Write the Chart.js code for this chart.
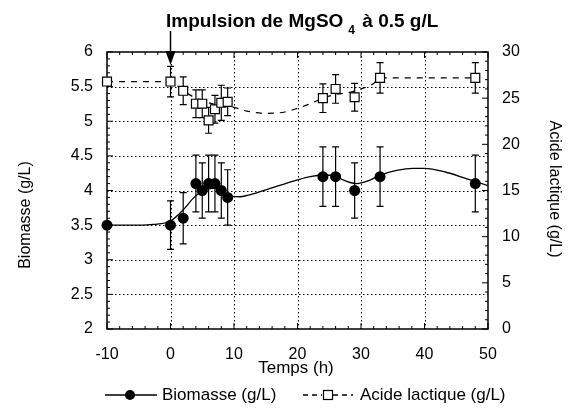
<!DOCTYPE html>
<html>
<head>
<meta charset="utf-8">
<script src="https://cdn.jsdelivr.net/npm/chart.js@4/dist/chart.umd.min.js"></script>
<style>
  html, body { margin: 0; padding: 0; background: #fff; }
  #wrap { width: 574px; height: 408px; }
</style>
</head>
<body>
<div id="wrap"><canvas id="chart" width="574" height="408"></canvas></div>
<script>
// sampling times (h) and measured values
const times = [-10, 0, 2, 4, 5, 6, 7, 8, 9, 24, 26, 29, 33, 48];
const biomasse = [3.5, 3.5, 3.6, 4.1, 4.0, 4.1, 4.1, 4.0, 3.9, 4.2, 4.2, 4.0, 4.2, 4.1];
const biomasseErr = [0, 0.35, 0.37, 0.41, 0.40, 0.41, 0.41, 0.40, 0.40, 0.43, 0.43, 0.40, 0.43, 0.41];
const acide = [26.8, 26.8, 25.8, 24.4, 24.4, 22.6, 23.8, 24.5, 24.6, 25.0, 26.0, 25.1, 27.2, 27.2];
const acideErr = [0, 1.65, 1.5, 1.5, 1.5, 1.4, 1.5, 1.9, 1.5, 1.55, 1.55, 1.5, 1.65, 1.65];

// smoothed curves
const biomasseFitT = [-10, -5, -2.7, 0, 2, 3.6, 5.2, 6.8, 8.4, 9.4, 11, 12.6, 15.7, 19.9, 22, 24, 26, 27, 29.3, 31.4, 33, 35.6, 38.2, 40, 43.5, 46, 48, 50];
const biomasseFit = [3.5, 3.5, 3.51, 3.56, 3.72, 3.89, 4.0, 4.03, 3.98, 3.92, 3.91, 3.94, 4.03, 4.15, 4.2, 4.22, 4.22, 4.16, 4.1, 4.15, 4.22, 4.29, 4.32, 4.32, 4.26, 4.19, 4.13, 4.07];
const acideFitT = [-10, -5, 0, 2, 4, 6, 8, 10, 12, 15, 18, 20, 22, 24, 26, 28, 30, 32, 33, 40, 48];
const acideFit = [26.8, 26.8, 26.8, 25.8, 25.0, 24.5, 24.2, 24.0, 23.6, 23.35, 23.5, 23.9, 24.4, 25.0, 25.4, 25.6, 26.0, 26.6, 27.2, 27.2, 27.2];

// axis ticks
const xTicks = [-10, 0, 10, 20, 30, 40, 50];
const yLeftTicks = [2, 2.5, 3, 3.5, 4, 4.5, 5, 5.5, 6];
const yRightTicks = [0, 5, 10, 15, 20, 25, 30];

const FONT = "'Liberation Sans', Arial, Helvetica, sans-serif";

function pts(xs, ys) {
    return xs.map((x, i) => ({ x: x, y: ys[i] }));
}

// error bars drawn under the markers
function drawErrors(chart, vals, errs, scaleId) {
    const ctx = chart.ctx;
    const xs = chart.scales.x;
    const ys = chart.scales[scaleId];
    ctx.save();
    ctx.strokeStyle = '#000';
    ctx.lineWidth = 1.2;
    times.forEach((t, i) => {
        if (!errs[i]) return;
        const px = xs.getPixelForValue(t);
        const top = ys.getPixelForValue(vals[i] + errs[i]);
        const bot = ys.getPixelForValue(vals[i] - errs[i]);
        ctx.beginPath();
        ctx.moveTo(px, top); ctx.lineTo(px, bot);
        ctx.moveTo(px - 3.5, top); ctx.lineTo(px + 3.5, top);
        ctx.moveTo(px - 3.5, bot); ctx.lineTo(px + 3.5, bot);
        ctx.stroke();
    });
    ctx.restore();
}

const decorations = {
    id: 'decorations',
    beforeDatasetsDraw(chart) {
        const ctx = chart.ctx;
        const a = chart.chartArea;
        const xs = chart.scales.x, yl = chart.scales.y, yr = chart.scales.y2;

        ctx.save();
        ctx.strokeStyle = '#000';

        // dotted grid on the major ticks
        ctx.lineWidth = 1;
        ctx.setLineDash([1.5, 2.5]);
        ctx.beginPath();
        xTicks.slice(1, -1).forEach(v => {
            const px = Math.round(xs.getPixelForValue(v)) + 0.5;
            ctx.moveTo(px, a.top); ctx.lineTo(px, a.bottom);
        });
        yLeftTicks.slice(1, -1).forEach(v => {
            const py = Math.round(yl.getPixelForValue(v)) + 0.5;
            ctx.moveTo(a.left, py); ctx.lineTo(a.right, py);
        });
        ctx.stroke();
        ctx.setLineDash([]);

        ctx.lineWidth = 1.5;
        ctx.strokeRect(a.left, a.top, a.right - a.left, a.bottom - a.top);

        // inward tick marks
        ctx.lineWidth = 1;
        ctx.beginPath();
        for (let v = xs.min; v <= xs.max; v += 2) {
            const px = xs.getPixelForValue(v);
            const len = v % 10 === 0 ? 6 : 3;
            ctx.moveTo(px, a.bottom); ctx.lineTo(px, a.bottom - len);
            ctx.moveTo(px, a.top); ctx.lineTo(px, a.top + len);
        }
        for (let k = 20; k <= 60; k++) {
            const py = yl.getPixelForValue(k / 10);
            const len = k % 5 === 0 ? 6 : 3;
            ctx.moveTo(a.left, py); ctx.lineTo(a.left + len, py);
        }
        for (let v = 0; v <= 30; v++) {
            const py = yr.getPixelForValue(v);
            const len = v % 5 === 0 ? 6 : 3;
            ctx.moveTo(a.right, py); ctx.lineTo(a.right - len, py);
        }
        ctx.stroke();
        ctx.restore();

        drawErrors(chart, biomasse, biomasseErr, 'y');
        drawErrors(chart, acide, acideErr, 'y2');
    },
    afterDraw(chart) {
        const ctx = chart.ctx;
        const xs = chart.scales.x;
        ctx.save();
        ctx.fillStyle = '#000';
        ctx.strokeStyle = '#000';

        // title with subscript
        ctx.textBaseline = 'alphabetic';
        ctx.textAlign = 'left';
        ctx.font = 'bold 19px ' + FONT;
        let tx = 166;
        ctx.fillText('Impulsion de MgSO', tx, 27);
        tx += ctx.measureText('Impulsion de MgSO').width + 5;
        ctx.font = 'bold 12px ' + FONT;
        ctx.fillText('4', tx, 34);
        tx += ctx.measureText('4').width + 2;
        ctx.font = 'bold 19px ' + FONT;
        ctx.fillText(' à 0.5 g/L', tx, 27);

        // arrow pointing at the pulse time
        const ax = xs.getPixelForValue(0);
        ctx.lineWidth = 1.5;
        ctx.beginPath();
        ctx.moveTo(ax, 31); ctx.lineTo(ax, 54);
        ctx.stroke();
        ctx.beginPath();
        ctx.moveTo(ax - 5, 51); ctx.lineTo(ax + 5, 51); ctx.lineTo(ax, 65);
        ctx.closePath();
        ctx.fill();

        // axis titles
        ctx.textAlign = 'center';
        ctx.textBaseline = 'middle';
        ctx.font = '17px ' + FONT;
        ctx.fillText('Temps (h)', 296, 368);

        ctx.font = '16px ' + FONT;
        ctx.save();
        ctx.translate(26, 215);
        ctx.rotate(-Math.PI / 2);
        ctx.fillText('Biomasse (g/L)', 0, 0);
        ctx.restore();
        ctx.save();
        ctx.translate(554, 189);
        ctx.rotate(Math.PI / 2);
        ctx.fillText('Acide lactique (g/L)', 0, 0);
        ctx.restore();

        // legend
        const ly = 395;
        ctx.lineWidth = 1.3;
        ctx.setLineDash([]);
        ctx.beginPath();
        ctx.moveTo(105, ly); ctx.lineTo(157, ly);
        ctx.stroke();
        ctx.beginPath();
        ctx.arc(130, ly, 5, 0, Math.PI * 2);
        ctx.fill();
        ctx.setLineDash([5, 4]);
        ctx.beginPath();
        ctx.moveTo(303, ly); ctx.lineTo(322, ly);
        ctx.moveTo(333, ly); ctx.lineTo(353, ly);
        ctx.stroke();
        ctx.setLineDash([]);
        ctx.lineWidth = 1.2;
        ctx.strokeRect(323.5, ly - 4.5, 9, 9);
        ctx.textAlign = 'left';
        ctx.font = '17px ' + FONT;
        ctx.fillText('Biomasse (g/L)', 162, ly);
        ctx.fillText('Acide lactique (g/L)', 360, ly);
        ctx.restore();
    }
};

new Chart(document.getElementById('chart'), {
    type: 'line',
    data: {
        datasets: [
            {
                label: 'Biomasse (g/L)',
                data: pts(times, biomasse),
                yAxisID: 'y',
                showLine: false,
                pointStyle: 'circle',
                pointRadius: 5.5,
                pointBackgroundColor: '#000',
                pointBorderColor: '#000',
                pointBorderWidth: 0,
                clip: false
            },
            {
                label: 'Acide lactique (g/L)',
                data: pts(times, acide),
                yAxisID: 'y2',
                showLine: false,
                pointStyle: 'rect',
                pointRadius: 6.3,
                pointBackgroundColor: '#fff',
                pointBorderColor: '#000',
                pointBorderWidth: 1.2,
                clip: false
            },
            {
                label: 'fit biomasse',
                data: pts(biomasseFitT, biomasseFit),
                yAxisID: 'y',
                borderColor: '#000',
                borderWidth: 1.3,
                pointRadius: 0,
                cubicInterpolationMode: 'monotone',
                fill: false
            },
            {
                label: 'fit acide',
                data: pts(acideFitT, acideFit),
                yAxisID: 'y2',
                borderColor: '#000',
                borderWidth: 1.2,
                borderDash: [6, 6],
                pointRadius: 0,
                cubicInterpolationMode: 'monotone',
                fill: false
            }
        ]
    },
    options: {
        responsive: false,
        animation: false,
        devicePixelRatio: 1,
        layout: { padding: { top: 52, left: 0, right: 0, bottom: 0 } },
        plugins: {
            legend: { display: false },
            title: { display: false },
            tooltip: { enabled: false }
        },
        scales: {
            x: {
                type: 'linear',
                min: -10,
                max: 50,
                afterBuildTicks: s => { s.ticks = xTicks.map(v => ({ value: v })); },
                afterFit: s => { s.height = 79; },
                ticks: {
                    color: '#000',
                    font: { family: FONT, size: 16 },
                    padding: 16,
                    maxRotation: 0,
                    callback: v => String(v)
                },
                grid: { display: false, drawTicks: false },
                border: { display: false }
            },
            y: {
                position: 'left',
                min: 2,
                max: 6,
                afterBuildTicks: s => { s.ticks = yLeftTicks.map(v => ({ value: v })); },
                afterFit: s => { s.width = 107; },
                ticks: {
                    color: '#000',
                    font: { family: FONT, size: 16 },
                    padding: 14,
                    callback: v => String(v)
                },
                grid: { display: false, drawTicks: false },
                border: { display: false }
            },
            y2: {
                position: 'right',
                min: 0,
                max: 30,
                afterBuildTicks: s => { s.ticks = yRightTicks.map(v => ({ value: v })); },
                afterFit: s => { s.width = 86; },
                ticks: {
                    color: '#000',
                    font: { family: FONT, size: 16 },
                    padding: 14,
                    callback: v => String(v)
                },
                grid: { display: false, drawTicks: false },
                border: { display: false }
            }
        }
    },
    plugins: [decorations]
});
</script>
</body>
</html>
